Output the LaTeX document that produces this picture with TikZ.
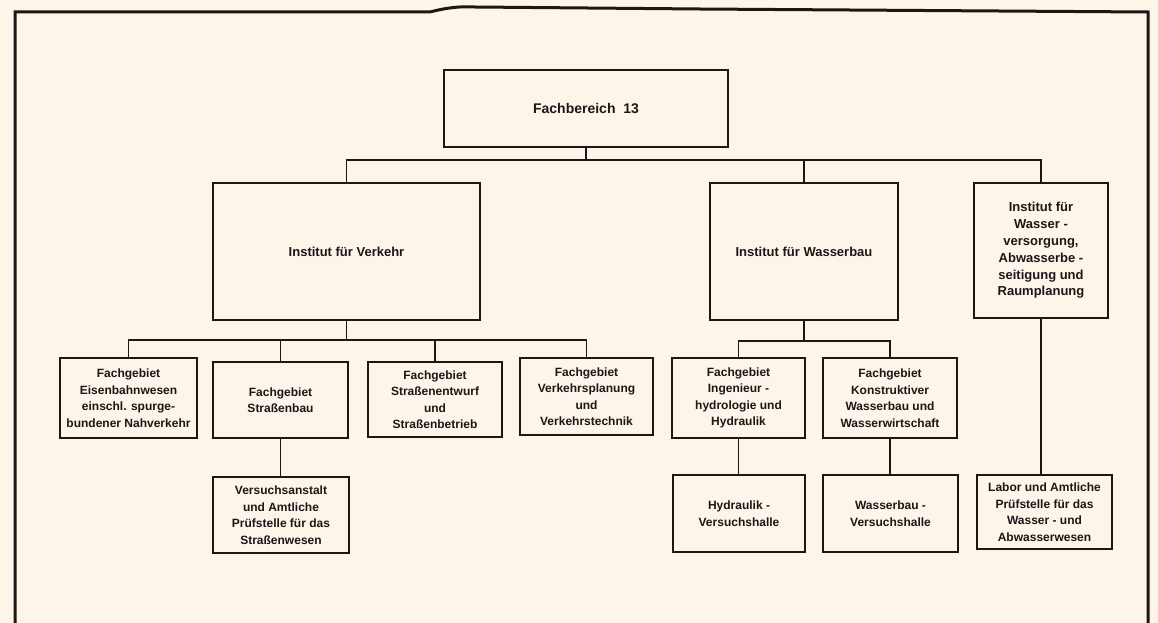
\documentclass[tikz,border=0pt]{standalone}
\usepackage{fontspec}
\setmainfont{Liberation Sans}
\definecolor{paper}{HTML}{FDF4EA}
\definecolor{ink}{HTML}{1C1717}
\begin{document}
\begin{tikzpicture}[x=1pt,y=-1pt,
  box/.style={draw=ink, line width=1.6pt, rectangle, inner sep=0pt, outer sep=0pt,
    align=center, text=ink, font=\fontsize{12}{16.5}\selectfont\bfseries},
  link/.style={draw=ink, line width=1.5pt},
  frame/.style={draw=ink, line width=3pt}]
\fill[paper] (0,0) rectangle (1158,623);
\useasboundingbox (0,0) rectangle (1158,623);
% frame
\draw[frame] (15,623) -- (15,12) -- (430,12) .. controls (445,8) and (460,6) .. (475,7) -- (700,9) -- (1148,12) -- (1148,623);
% top level
\node[box, minimum width=284, minimum height=77, font=\fontsize{14}{17}\selectfont\bfseries] (FB) at (586,108.5) {Fachbereich\ \ 13};
% institutes
\node[box, minimum width=267, minimum height=137, font=\fontsize{13}{16.5}\selectfont\bfseries] (IV) at (346.5,251.5) {Institut für Verkehr};
\node[box, minimum width=188, minimum height=137, font=\fontsize{13}{16.5}\selectfont\bfseries] (IW) at (804,251.5) {Institut für Wasserbau};
\node[box, minimum width=134, minimum height=135, font=\fontsize{13}{16.8}\selectfont\bfseries] (IA) at (1041,250.5) {Institut für\\Wasser -\\versorgung,\\Abwasserbe -\\seitigung und\\Raumplanung};
% Fachgebiete Verkehr
\node[box, minimum width=137, minimum height=80] (E) at (128.5,398) {Fachgebiet\\Eisenbahnwesen\\einschl. spurge-\\\makebox[0pt]{bundener Nahverkehr}};
\node[box, minimum width=135, minimum height=76] (S) at (280.5,400) {Fachgebiet\\Straßenbau};
\node[box, minimum width=134, minimum height=75] (SE) at (435,399.5) {Fachgebiet\\Straßenentwurf\\und\\Straßenbetrieb};
\node[box, minimum width=133, minimum height=77] (VP) at (586.5,396.5) {Fachgebiet\\Verkehrsplanung\\und\\Verkehrstechnik};
% Fachgebiete Wasserbau
\node[box, minimum width=133, minimum height=80] (IH) at (738.5,398) {Fachgebiet\\Ingenieur -\\hydrologie und\\Hydraulik};
\node[box, minimum width=134, minimum height=80] (KW) at (890,398) {Fachgebiet\\Konstruktiver\\Wasserbau und\\Wasserwirtschaft};
% lower row
\node[box, minimum width=136, minimum height=76] (VA) at (281,515) {Versuchsanstalt\\und Amtliche\\Prüfstelle für das\\Straßenwesen};
\node[box, minimum width=132, minimum height=77] (HV) at (739,513.5) {Hydraulik -\\Versuchshalle};
\node[box, minimum width=135, minimum height=77] (WV) at (890.5,513.5) {Wasserbau -\\Versuchshalle};
\node[box, minimum width=135, minimum height=74] (LA) at (1044.5,512) {Labor und Amtliche\\Prüfstelle für das\\Wasser - und\\Abwasserwesen};
% bus coordinates
\coordinate (busT) at (586,160);
\coordinate (busV) at (0,340);
\coordinate (busW) at (0,341);
% connectors top
\draw[link] (FB.south) -- (FB.south |- busT);
\draw[link] (IV.north) |- (IA.north |- busT) -- (IA.north);
\draw[link] (IW.north) -- (IW.north |- busT);
% connectors Verkehr
\draw[link] (IV.south) -- (IV.south |- busV);
\draw[link] (E.north) |- (VP.north |- busV) -- (VP.north);
\draw[link] (S.north) -- (S.north |- busV);
\draw[link] (SE.north) -- (SE.north |- busV);
% connectors Wasserbau
\draw[link] (IW.south) -- (IW.south |- busW);
\draw[link] (IH.north) |- (KW.north |- busW) -- (KW.north);
% lower connectors
\draw[link] (S.south) -- (S.south |- VA.north);
\draw[link] (IH.south) -- (IH.south |- HV.north);
\draw[link] (KW.south) -- (KW.south |- WV.north);
\draw[link] (IA.south) -- (IA.south |- LA.north);
\end{tikzpicture}
\end{document}
